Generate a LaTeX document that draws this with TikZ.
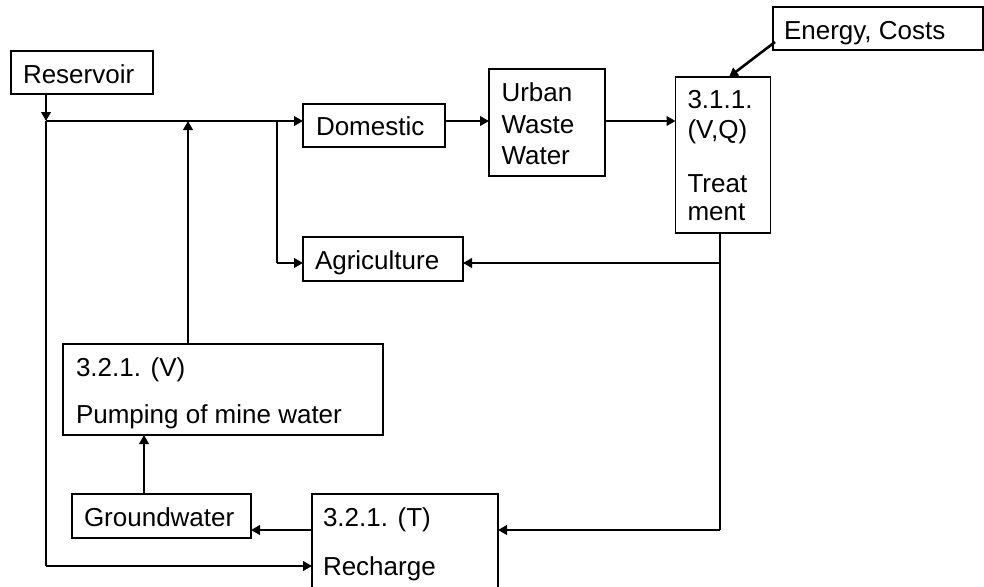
\documentclass[tikz,border=0pt]{standalone}
\usepackage{fontspec}
\setmainfont{Liberation Sans}
\usetikzlibrary{arrows.meta,calc}
\begin{document}
\begin{tikzpicture}[x=1pt,y=-1pt,
  box/.style={draw,line width=1.2pt,inner sep=0pt,outer sep=0pt,anchor=north west},
  lbl/.style={inner sep=0pt,outer sep=0pt,anchor=base west,font=\fontsize{26}{30}\selectfont},
  arr/.style={line width=2.6pt,-{Triangle[length=9pt,width=9.5pt]}},
  feed/.style={line width=1.3pt},
  trunk/.style={line width=2.6pt}]
\useasboundingbox (0,0) rectangle (984,586);
\clip (0,0) rectangle (984,586);

% boxes
\node[box,minimum width=142pt,minimum height=43pt] (res) at (11,51) {};
\node[box,minimum width=142pt,minimum height=43pt] (dom) at (303,104) {};
\node[box,minimum width=116pt,minimum height=107pt] (urb) at (489,69) {};
\node[box,minimum width=95pt,minimum height=156pt] (trt) at (675.5,77) {};
\node[box,minimum width=210pt,minimum height=43pt] (en) at (773,7) {};
\node[box,minimum width=160pt,minimum height=44pt] (agr) at (303,237) {};
\node[box,minimum width=320pt,minimum height=91pt] (pmp) at (63,344) {};
\node[box,minimum width=179pt,minimum height=44pt] (gw) at (72,494) {};
\node[box,minimum width=186pt,minimum height=110pt] (rch) at (312,494) {};

% labels
\node[lbl] (tres) at (23,83.3) {Reservoir};
\node[lbl] (tdom) at (316,135) {Domestic};
\node[lbl] (turb1) at (501.5,101.7) {Urban};
\node[lbl] (turb2) at (501.5,133.3) {Waste};
\node[lbl] (turb3) at (501.5,164.3) {Water};
\node[lbl] (ttrt1) at (687.5,108.3) {3.1.1.};
\node[lbl] (ttrt2) at (687.5,138.3) {(V,Q)};
\node[lbl] (ttrt3) at (687.5,192.7) {Treat};
\node[lbl] (ttrt4) at (687.5,220) {ment};
\node[lbl] (ten) at (784,39.3) {Energy, Costs};
\node[lbl] (tagr) at (315,269.3) {Agriculture};
\node[lbl] (tpmp1) at (76,376.7) {3.2.1. (V)};
\node[lbl] (tpmp2) at (76,423.3) {Pumping of mine water};
\node[lbl] (tgw) at (84,526.7) {Groundwater};
\node[lbl] (trch1) at (323,526.7) {3.2.1. (T)};
\node[lbl] (trch2) at (323,575) {Recharge};

% junctions and routing coordinates
\coordinate (j1) at (46,121);
\coordinate (j2) at (277,121);
\coordinate (ux) at (188,0);
\coordinate (gx) at (144,0);
\coordinate (tx) at (720,0);
\coordinate (ya) at (0,263);
\coordinate (yr) at (0,530);
\coordinate (yb) at (0,566);

% supply line
\draw[arr] (res.south -| j1) -- (j1);
\draw[trunk] (j1) -- (j2);
\draw[arr] (j2) -- (j1 -| dom.west);
\draw[arr] (dom.east |- j1) -- (j1 -| urb.west);
\draw[arr] (urb.east |- j1) -- (j1 -| trt.west);
\draw[arr] ($(en.south west)+(2,-8)$) -- ($(trt.north)+(6,0)$);

% branch to agriculture
\draw[feed] (j2) -- (j2 |- ya);
\draw[arr] (j2 |- ya) -- (ya -| agr.west);

% treated water outlets
\draw[feed] (trt.south -| tx) -- (tx |- yr);
\draw[arr] (tx |- ya) -- (ya -| agr.east);
\draw[arr] (tx |- yr) -- (yr -| rch.east);

% mine water loop
\draw[arr] (pmp.north -| ux) -- (ux |- j1);
\draw[arr] (gw.north -| gx) -- (pmp.south -| gx);
\draw[arr] (rch.west |- yr) -- (yr -| gw.east);

% reservoir to recharge
\draw[feed] (j1) -- (j1 |- yb);
\draw[arr] (j1 |- yb) -- (yb -| rch.west);
\end{tikzpicture}
\end{document}
